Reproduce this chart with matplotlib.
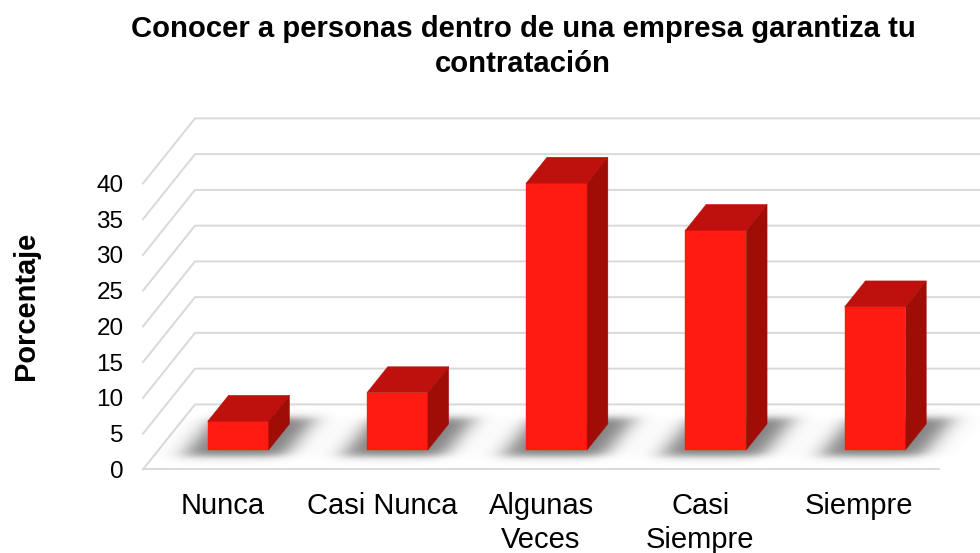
#!/usr/bin/env python
"""Fake-3D column chart: Conocer a personas dentro de una empresa."""
import matplotlib

matplotlib.use("Agg")
import matplotlib.pyplot as plt
import numpy as np
from matplotlib.patches import Polygon

categories = ["Nunca", "Casi Nunca", "Algunas\nVeces", "Casi\nSiempre", "Siempre"]
percent = [4, 8, 37.3, 30.7, 20]
y_ticks = [0, 5, 10, 15, 20, 25, 30, 35, 40]

TITLE = "Conocer a personas dentro de una empresa garantiza tu\ncontratación"
FRONT, TOP, SIDE = "#FF1A12", "#BE100C", "#A00D07"
GRID = "#D9D9D9"
DX, DY = 52 / 159.2, 65 / 7.15  # full floor depth, in data units
BAR_W = 0.383
D0, D1 = 0.3, 0.7  # where the columns sit on the floor depth

plt.rcParams["font.family"] = ["Liberation Sans", "DejaVu Sans"]


def proj(x, v, d):
    return (x + d * DX, v + d * DY)


def shadow(ax, xc):
    # soft blurred footprint on the floor
    x0, x1 = xc - BAR_W / 2, xc + BAR_W / 2
    xs = np.linspace(xc - 0.65, xc + 1.05, 280)
    ys = np.linspace(-2.5, DY, 100)
    X, Y = np.meshgrid(xs, ys)
    d = Y / DY
    u = X - d * DX
    sig = lambda t, s: 1 / (1 + np.exp(-t / s))
    a = sig(u - (x0 - 0.12), 0.045) * sig((x1 + 0.13) - u, 0.045)
    a = a * sig(d - (D0 - 0.10), 0.035) * sig((D1 + 0.09) - d, 0.035)
    rgba = np.zeros(a.shape + (4,))
    rgba[..., :3] = 0.3
    rgba[..., 3] = a * 0.72
    ax.imshow(rgba, extent=(xs[0], xs[-1], ys[0], ys[-1]), origin="lower",
              aspect="auto", interpolation="bilinear", zorder=2, clip_on=False)


def main():
    fig = plt.figure(figsize=(9.8, 5.53), dpi=100)
    ax = fig.add_axes([143 / 980, (553 - 469.4) / 553, 796 / 980, 286 / 553])
    xpos = np.arange(len(categories)) + 0.5

    # walls: diagonal on the left, then back line out to the figure edge
    for v in y_ticks:
        ax.plot(*zip(proj(0, v, 0), proj(0, v, 1), proj(5.4, v, 1)),
                color=GRID, lw=1.4, zorder=1, clip_on=False)
    ax.plot([0, 5], [0, 0], color=GRID, lw=1.4, zorder=1, clip_on=False)

    for xc, val in zip(xpos, percent):
        shadow(ax, xc)
        l, r = xc - BAR_W / 2, xc + BAR_W / 2
        faces = [
            ([proj(l, 0, D0), proj(r, 0, D0), proj(r, val, D0), proj(l, val, D0)], FRONT),
            ([proj(l, val, D0), proj(r, val, D0), proj(r, val, D1), proj(l, val, D1)], TOP),
            ([proj(r, 0, D0), proj(r, 0, D1), proj(r, val, D1), proj(r, val, D0)], SIDE),
        ]
        for pts, col in faces:
            ax.add_patch(Polygon(pts, closed=True, facecolor=col, edgecolor=col,
                                 lw=0.3, zorder=3, clip_on=False))

    ax.set_xlim(0, 5)
    ax.set_ylim(0, 40)
    ax.set_xticks(xpos)
    ax.set_xticklabels(categories, fontsize=21, linespacing=1.24)
    ax.set_yticks(y_ticks)
    ax.tick_params(axis="x", length=0, pad=16.5)
    ax.tick_params(axis="y", length=0, pad=14, labelsize=17.5)
    for s in ax.spines.values():
        s.set_visible(False)
    ax.patch.set_visible(False)

    fig.text(523 / 980, 1 - 46.5 / 553, TITLE, ha="center", va="center",
             fontsize=21.1, fontweight="bold", linespacing=1.28)
    fig.text(26 / 980, 1 - 306 / 553, "Porcentaje", rotation=90, ha="center",
             va="center", fontsize=20.9, fontweight="bold")
    fig.savefig("out.png", dpi=100)


if __name__ == "__main__":
    main()
